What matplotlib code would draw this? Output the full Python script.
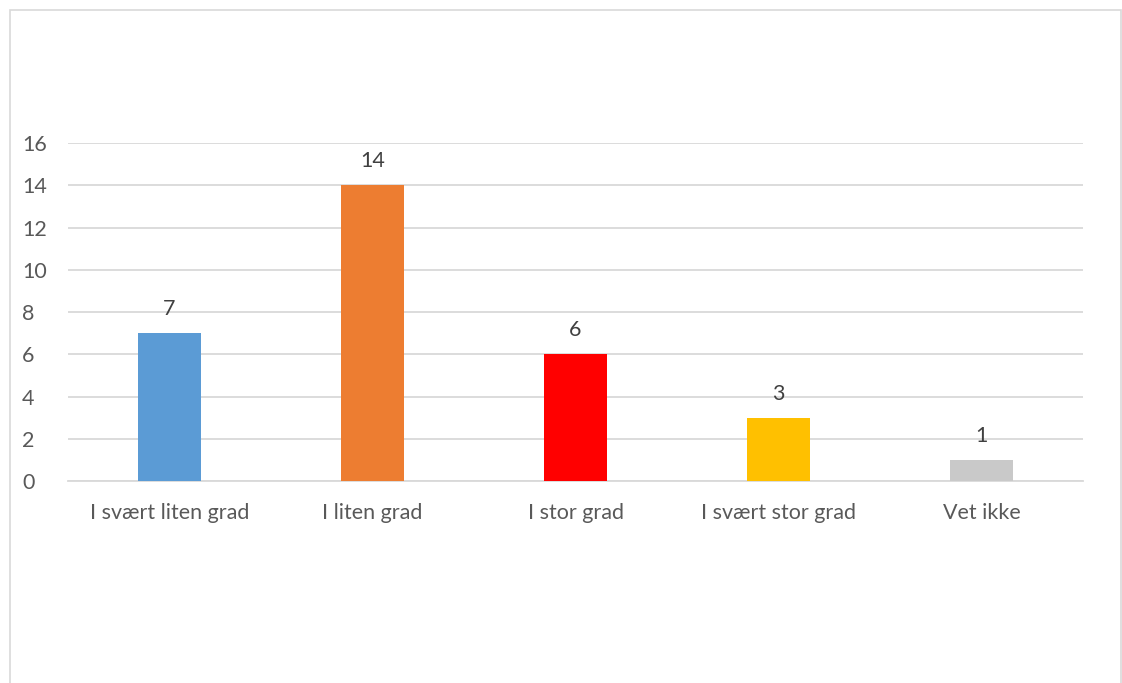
import matplotlib
matplotlib.use("Agg")
import matplotlib.pyplot as plt
from matplotlib.patches import Rectangle

categories = ["I svært liten grad", "I liten grad", "I stor grad", "I svært stor grad", "Vet ikke"]
values = [7, 14, 6, 3, 1]
colors = ["#5b9bd5", "#ed7d31", "#ff0000", "#ffc000", "#c9c9c9"]
yticks = [0, 2, 4, 6, 8, 10, 12, 14, 16]

plt.rcParams["font.family"] = ["Lato", "DejaVu Sans"]
text_color = "#595959"
grid_color = "#d9d9d9"

W, H = 1122, 683
fig = plt.figure(figsize=(W / 100, H / 100), dpi=100)
fig.patch.set_facecolor("white")

# chart frame (open at the bottom)
fig.add_artist(Rectangle((9.5 / W, -0.1), (1121 - 9.5) / W, 1.1 - 10.5 / H,
                         transform=fig.transFigure, fill=False,
                         edgecolor=grid_color, linewidth=1.2))

ax = fig.add_axes([68 / W, 1 - 481 / H, (1083 - 68) / W, (481 - 143) / H])
x = list(range(len(categories)))
bars = ax.bar(x, values, width=0.315, color=colors, zorder=3)

ax.set_xlim(-0.5, len(categories) - 0.5)
ax.set_ylim(0, 16)
ax.set_yticks(yticks)
ax.set_xticks(x)
ax.set_xticklabels(categories)
ax.grid(axis="y", color=grid_color, linewidth=1.3, zorder=0)
for s in ["top", "right", "left"]:
    ax.spines[s].set_visible(False)
ax.spines["bottom"].set_color(grid_color)
ax.spines["bottom"].set_linewidth(1.3)
ax.tick_params(axis="both", length=0, labelsize=15.5, colors=text_color)
ax.tick_params(axis="x", pad=16)
ax.tick_params(axis="y", pad=33)
for lbl in ax.get_yticklabels():
    lbl.set_horizontalalignment("left")

for xi, v in zip(x, values):
    ax.annotate(str(v), (xi, v), xytext=(0, 10), textcoords="offset points",
                ha="center", va="bottom", fontsize=15.5, color="#404040")

fig.savefig("out.png", dpi=100)
